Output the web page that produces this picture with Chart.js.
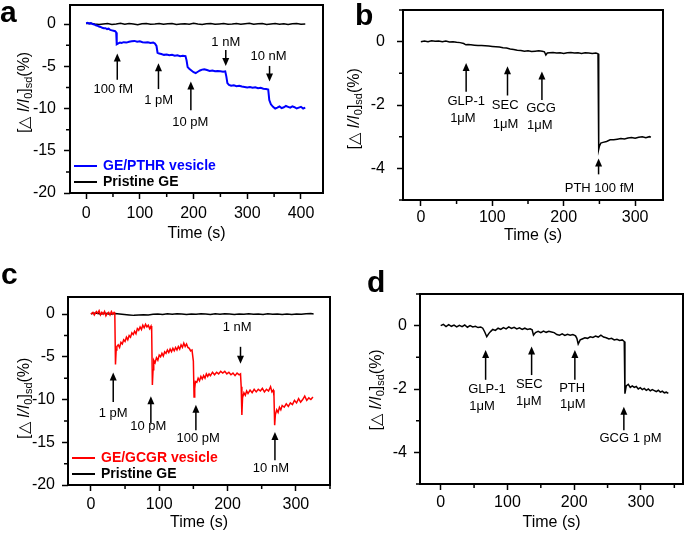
<!DOCTYPE html>
<html>
<head>
<meta charset="utf-8">
<script src="https://cdn.jsdelivr.net/npm/chart.js@4.4.0/dist/chart.umd.min.js"></script>
<style>
  body { margin: 0; background: #fff; }
  #wrap { position: relative; width: 685px; height: 534px; overflow: hidden; }
  canvas { position: absolute; }
  .letter { position: absolute; font: bold 30px "Liberation Sans", Arial, sans-serif; line-height: 30px; color: #000; }
</style>
</head>
<body>
<div id="wrap">
  <canvas id="chartA" width="340" height="262" style="left:0;top:0"></canvas>
  <canvas id="chartB" width="345" height="262" style="left:340px;top:0"></canvas>
  <canvas id="chartC" width="340" height="269" style="left:0;top:265px"></canvas>
  <canvas id="chartD" width="345" height="269" style="left:340px;top:265px"></canvas>
  <div class="letter" style="left:0;top:-3px">a</div>
  <div class="letter" style="left:355px;top:0">b</div>
  <div class="letter" style="left:1px;top:259px">c</div>
  <div class="letter" style="left:367px;top:267px">d</div>
</div>
<script>
// ---- panel a : GE/PTHR vesicle vs pristine GE ----
const xTicksA = [0, 100, 200, 300, 400];
const yTicksA = [0, -5, -10, -15, -20];
const vesicleA = [
  [0, 0.1], [3, 0.15], [6, 0.05], [9, 0.1], [12, 0.0], [15, -0.05], [18, -0.15], [21, -0.2],
  [24, -0.3], [27, -0.35], [30, -0.45], [33, -0.5], [36, -0.5], [39, -0.6], [42, -0.55], [45, -0.7],
  [48, -0.75], [51, -0.8], [54, -0.85], [56, -1.0], [57, -2.4], [60, -2.3], [63, -2.2], [66, -2.25],
  [70, -2.15], [75, -2.2], [80, -2.1], [85, -2.05], [90, -2.0], [95, -2.1], [100, -2.05], [105, -2.15],
  [110, -2.2], [115, -2.15], [120, -2.25], [125, -2.2], [128, -2.3], [131, -2.6], [133, -3.4], [136, -3.5],
  [140, -3.55], [145, -3.65], [150, -3.6], [155, -3.7], [160, -3.65], [165, -3.75], [170, -3.7], [175, -3.8],
  [180, -3.75], [185, -3.8], [187, -4.3], [189, -5.1], [192, -5.3], [196, -5.5], [200, -5.7], [204, -5.8],
  [208, -5.65], [212, -5.5], [216, -5.4], [220, -5.35], [225, -5.45], [230, -5.55], [235, -5.5], [240, -5.6],
  [245, -5.55], [250, -5.6], [255, -5.65], [259, -5.6], [261, -6.2], [263, -7.0], [266, -7.2], [270, -7.3],
  [275, -7.25], [280, -7.35], [285, -7.3], [290, -7.4], [295, -7.45], [300, -7.5], [305, -7.45], [310, -7.55],
  [315, -7.5], [320, -7.6], [325, -7.55], [330, -7.65], [335, -7.7], [339, -7.75], [341, -9.0], [344, -9.5],
  [348, -9.8], [352, -10.0], [356, -9.9], [360, -9.75], [364, -9.95], [368, -9.85], [372, -9.7], [376, -9.8],
  [380, -9.9], [384, -9.75], [388, -9.85], [392, -10.0], [396, -9.9], [400, -9.8], [404, -10.0], [408, -9.9]
];
const pristineA = [
  [0, 0.05], [8, 0.1], [16, 0.0], [24, -0.05], [32, 0.0], [40, 0.05], [48, -0.05], [56, 0.0],
  [64, 0.08], [72, -0.02], [80, 0.05], [88, 0.0], [96, -0.08], [104, 0.02], [112, 0.06], [120, -0.04],
  [128, 0.0], [136, 0.07], [144, -0.03], [152, 0.02], [160, 0.05], [168, -0.06], [176, 0.0], [184, 0.04],
  [192, -0.02], [200, 0.08], [208, 0.0], [216, -0.05], [224, 0.03], [232, 0.06], [240, -0.04], [248, 0.01],
  [256, 0.05], [264, -0.03], [272, 0.0], [280, 0.07], [288, -0.02], [296, 0.04], [304, 0.1], [312, -0.03],
  [320, 0.02], [328, 0.05], [336, -0.05], [344, 0.0], [352, 0.06], [360, -0.02], [368, 0.03], [376, -0.06],
  [384, 0.02], [392, 0.05], [400, -0.03], [408, 0.0]
];
const arrowsA = [[58, -6.6, -3.5], [134.7, -7.7, -4.65], [195, -10.2, -6.8], [260, -3.07, -4.96], [341.5, -4.96, -6.8]];
const labelsA = [[50.6, -7.7, '100 fM'], [135, -9.0, '1 pM'], [194, -11.7, '10 pM'], [260, -2.2, '1 nM'], [339.5, -3.85, '10 nM']];

// ---- panel b : PTHR selectivity ----
const xTicksB = [0, 100, 200, 300];
const yTicksB = [0, -2, -4];
const selectB = [
  [0, 0.0], [5, 0.02], [10, 0.0], [15, 0.03], [20, 0.01], [25, 0.02], [30, 0.0], [35, 0.02],
  [40, -0.01], [45, 0.0], [50, -0.02], [55, -0.03], [60, -0.06], [63, -0.1], [66, -0.09], [70, -0.1],
  [75, -0.11], [80, -0.12], [85, -0.12], [90, -0.13], [95, -0.14], [100, -0.15], [105, -0.16], [110, -0.17],
  [115, -0.19], [120, -0.2], [125, -0.23], [130, -0.25], [135, -0.27], [140, -0.28], [145, -0.3], [150, -0.29],
  [155, -0.31], [160, -0.3], [165, -0.29], [170, -0.3], [173, -0.32], [175, -0.42], [177, -0.36], [180, -0.35],
  [185, -0.34], [190, -0.36], [195, -0.35], [200, -0.37], [205, -0.35], [210, -0.34], [215, -0.36], [220, -0.35],
  [225, -0.37], [230, -0.35], [235, -0.36], [240, -0.37], [245, -0.36], [248, -0.38], [249, -3.4], [250, -3.3],
  [252, -3.2], [255, -3.18], [260, -3.15], [265, -3.1], [270, -3.1], [275, -3.08], [280, -3.06], [285, -3.07],
  [290, -3.04], [295, -3.03], [300, -3.05], [305, -3.02], [310, -3.0], [315, -3.03], [320, -3.0], [322, -3.02]
];
const arrowsB = [[63.4, -1.58, -0.67], [121.3, -1.7, -0.78], [169.5, -1.84, -0.94], [248.8, -4.19, -3.69]];
const labelsB = [
  [37.3, -1.9, 'GLP-1', 'left'], [41, -2.43, '1μM', 'left'],
  [99.4, -2.0, 'SEC', 'left'], [100.8, -2.6, '1μM', 'left'],
  [147.5, -2.1, 'GCG', 'left'], [148.5, -2.64, '1μM', 'left'],
  [250, -4.62, 'PTH 100 fM']
];

// ---- panel c : GE/GCGR vesicle vs pristine GE ----
const xTicksC = [0, 100, 200, 300];
const yTicksC = [0, -5, -10, -15, -20];
const vesicleC = [
  [0, 0.0], [3, 0.2], [5, -0.1], [8, 0.3], [10, 0.1], [12, 0.4], [14, -0.1], [16, 0.2], [18, 0.0],
  [20, 0.3], [22, -0.2], [24, 0.1], [26, 0.2], [28, -0.1], [30, 0.3], [32, 0.0], [34, 0.2], [35, 0.1],
  [36, -5.9], [37, -4.2], [38, -3.8], [40, -3.6], [42, -3.9], [44, -3.3], [46, -3.5], [48, -3.0],
  [50, -3.2], [52, -2.7], [54, -3.0], [56, -2.5], [58, -2.7], [60, -2.2], [62, -2.4], [64, -2.0],
  [66, -2.3], [68, -1.7], [70, -1.9], [72, -1.5], [74, -1.8], [76, -1.3], [78, -1.6], [80, -1.2],
  [82, -1.5], [84, -1.3], [86, -1.7], [88, -1.4], [89, -2.0], [90, -8.3], [91, -6.5], [92, -5.4],
  [94, -5.7], [96, -5.1], [98, -5.4], [100, -4.8], [102, -5.0], [104, -4.6], [106, -4.9], [108, -4.4],
  [110, -4.6], [112, -4.2], [114, -4.5], [116, -4.1], [118, -4.4], [120, -4.0], [122, -4.3], [124, -3.9],
  [126, -4.2], [128, -3.8], [130, -4.1], [132, -3.6], [134, -3.9], [136, -3.4], [138, -3.8], [140, -3.5],
  [142, -3.9], [144, -4.0], [146, -4.3], [148, -4.2], [150, -5.5], [151, -9.7], [152, -8.7], [153, -7.9],
  [155, -8.0], [157, -7.5], [159, -7.8], [161, -7.3], [163, -7.6], [165, -7.2], [167, -7.5], [169, -7.0],
  [171, -7.3], [173, -7.0], [175, -7.2], [178, -6.8], [181, -7.1], [184, -6.8], [187, -7.0], [190, -6.7],
  [193, -6.9], [196, -6.7], [199, -7.0], [202, -6.8], [205, -7.1], [208, -6.9], [211, -7.2], [214, -6.9],
  [217, -7.1], [219, -7.0], [220, -8.5], [221, -11.8], [222, -9.8], [224, -9.2], [226, -9.5], [228, -9.0],
  [230, -9.3], [233, -8.9], [236, -9.2], [239, -8.8], [242, -9.1], [245, -8.8], [248, -9.0], [251, -8.7],
  [254, -9.1], [257, -8.8], [260, -9.0], [263, -8.5], [265, -9.1], [267, -8.9], [268, -9.6], [269, -13.0],
  [270, -11.8], [272, -11.2], [274, -11.5], [276, -10.9], [278, -11.2], [280, -10.7], [283, -10.9], [286, -10.5],
  [289, -10.8], [292, -10.4], [295, -10.6], [298, -10.1], [301, -10.4], [304, -9.9], [307, -10.3], [310, -10.0],
  [313, -9.6], [316, -10.1], [319, -9.8], [322, -10.0], [325, -9.7]
];
const pristineC = [
  [0, 0.05], [7, 0.12], [14, 0.02], [21, 0.1], [28, -0.02], [35, 0.06], [42, 0.0], [49, -0.05],
  [56, -0.1], [63, -0.15], [70, -0.12], [77, -0.08], [84, -0.1], [91, -0.03], [98, 0.02], [105, -0.04],
  [112, 0.03], [119, -0.02], [126, 0.05], [133, 0.0], [140, -0.05], [147, 0.02], [154, -0.03], [161, 0.04],
  [168, 0.0], [175, -0.05], [182, 0.03], [189, -0.02], [196, 0.05], [203, 0.0], [210, -0.06], [217, 0.02],
  [224, -0.03], [231, 0.04], [238, -0.02], [245, 0.0], [252, -0.05], [259, 0.03], [266, -0.02], [273, 0.02],
  [280, -0.04], [287, 0.0], [294, -0.05], [301, 0.01], [308, -0.03], [315, 0.05], [322, 0.08], [326, 0.02]
];
const arrowsC = [[32.7, -10.3, -6.84], [87.8, -12.8, -9.6], [153.7, -13.6, -10.6], [219, -3.83, -5.8], [269.4, -17.1, -13.8]];
const labelsC = [[32.7, -11.65, '1 pM'], [84, -13.2, '10 pM'], [157, -14.5, '100 pM'], [214, -1.56, '1 nM'], [263.5, -18.1, '10 nM']];

// ---- panel d : GCGR selectivity ----
const xTicksD = [0, 100, 200, 300];
const yTicksD = [0, -2, -4];
const selectD = [
  [0, 0.0], [4, 0.04], [8, -0.03], [12, 0.03], [16, -0.02], [20, 0.02], [24, -0.04], [28, 0.01],
  [32, -0.03], [36, 0.02], [40, -0.05], [44, 0.0], [48, -0.04], [52, -0.02], [56, -0.06], [60, -0.04],
  [63, -0.08], [66, -0.2], [69, -0.35], [72, -0.25], [75, -0.18], [78, -0.12], [82, -0.15], [86, -0.08],
  [90, -0.12], [94, -0.06], [98, -0.1], [102, -0.04], [106, -0.09], [110, -0.05], [114, -0.1], [118, -0.07],
  [122, -0.12], [126, -0.08], [130, -0.12], [134, -0.1], [137, -0.13], [139, -0.3], [142, -0.22], [146, -0.18],
  [150, -0.22], [154, -0.17], [158, -0.21], [162, -0.18], [166, -0.2], [170, -0.22], [174, -0.28], [178, -0.3],
  [182, -0.26], [186, -0.31], [190, -0.27], [194, -0.3], [198, -0.28], [202, -0.32], [204, -0.4], [206, -0.58],
  [209, -0.45], [212, -0.42], [216, -0.38], [220, -0.4], [224, -0.35], [228, -0.37], [232, -0.33], [236, -0.36],
  [240, -0.3], [244, -0.36], [248, -0.38], [252, -0.42], [256, -0.4], [260, -0.45], [264, -0.43], [268, -0.47],
  [272, -0.45], [275, -0.5], [276, -2.15], [278, -1.9], [281, -1.85], [284, -1.95], [287, -1.9], [290, -1.95],
  [293, -1.92], [296, -2.0], [299, -1.96], [302, -2.02], [305, -1.98], [308, -2.04], [311, -2.0], [314, -2.06],
  [317, -2.02], [320, -2.05], [323, -2.08], [326, -2.04], [329, -2.1], [332, -2.07], [335, -2.12], [338, -2.1],
  [341, -2.14]
];
const arrowsD = [[67.3, -1.71, -0.77], [136.2, -1.56, -0.66], [201, -1.71, -0.77], [274.4, -3.3, -2.56]];
const labelsD = [
  [41.3, -2.0, 'GLP-1', 'left'], [42.8, -2.56, '1μM', 'left'],
  [112.7, -1.87, 'SEC', 'left'], [112.7, -2.4, '1μM', 'left'],
  [177.5, -1.98, 'PTH', 'left'], [178.6, -2.5, '1μM', 'left'],
  [284.4, -3.56, 'GCG 1 pM']
];

const FONT = '"Liberation Sans", Arial, sans-serif';
Chart.defaults.font.family = FONT;
Chart.defaults.color = '#000';

// midpoints between major ticks -> minor tick marks
function minorsOf(ticks, lo, hi) {
  const out = [];
  const step = Math.abs(ticks[1] - ticks[0]);
  let v = ticks[0] - step / 2;
  while (v - step >= lo) v -= step;
  for (; v <= hi; v += step) {
    if (v >= lo) out.push(v);
  }
  return out;
}

function drawYTitle(ctx, cx, cy) {
  const parts = [
    ['[\u25B3 ', '16px ' + FONT, 0],
    ['I/I', 'italic 16px ' + FONT, 0],
    ['0', '11px ' + FONT, 4],
    [']', '16px ' + FONT, 0],
    ['sd', '11px ' + FONT, 4],
    ['(%)', '16px ' + FONT, 0]
  ];
  let total = 0;
  parts.forEach(p => { ctx.font = p[1]; total += ctx.measureText(p[0]).width; });
  ctx.save();
  ctx.translate(cx, cy);
  ctx.rotate(-Math.PI / 2);
  ctx.textBaseline = 'middle';
  ctx.textAlign = 'left';
  let x = -total / 2;
  parts.forEach(p => {
    ctx.font = p[1];
    ctx.fillText(p[0], x, p[2]);
    x += ctx.measureText(p[0]).width;
  });
  ctx.restore();
}

const panelDecor = {
  id: 'panelDecor',
  afterDraw(chart, args, o) {
    const { ctx, chartArea: a } = chart;
    const xs = chart.scales.x, ys = chart.scales.y;
    ctx.save();
    ctx.strokeStyle = '#000';
    ctx.fillStyle = '#000';
    // frame
    ctx.lineWidth = 2;
    ctx.strokeRect(a.left, a.top, a.right - a.left, a.bottom - a.top);
    // minor ticks
    ctx.lineWidth = 1.5;
    ctx.beginPath();
    minorsOf(o.xTicks, xs.min, xs.max).forEach(v => {
      const px = xs.getPixelForValue(v);
      ctx.moveTo(px, a.bottom); ctx.lineTo(px, a.bottom + 4);
    });
    minorsOf(o.yTicks, ys.min, ys.max).forEach(v => {
      const py = ys.getPixelForValue(v);
      ctx.moveTo(a.left, py); ctx.lineTo(a.left - 4, py);
    });
    ctx.stroke();
    // arrows
    o.arrows.forEach(([t, from, to]) => {
      const px = xs.getPixelForValue(t);
      const p1 = ys.getPixelForValue(from), p2 = ys.getPixelForValue(to);
      const dir = p2 > p1 ? 1 : -1;
      ctx.lineWidth = 1.5;
      ctx.beginPath();
      ctx.moveTo(px, p1); ctx.lineTo(px, p2 - dir * 5);
      ctx.stroke();
      ctx.beginPath();
      ctx.moveTo(px, p2);
      ctx.lineTo(px - 3.5, p2 - dir * 8);
      ctx.lineTo(px + 3.5, p2 - dir * 8);
      ctx.closePath();
      ctx.fill();
    });
    // labels
    ctx.font = '13px ' + FONT;
    ctx.textBaseline = 'middle';
    o.labels.forEach(([t, v, text, align]) => {
      ctx.textAlign = align || 'center';
      ctx.fillText(text, xs.getPixelForValue(t), ys.getPixelForValue(v));
    });
    // legend inside the frame
    if (o.legend) {
      chart.data.datasets.forEach((ds, i) => {
        const y = a.bottom - 27 + i * 16;
        ctx.strokeStyle = ds.borderColor;
        ctx.lineWidth = 2;
        ctx.beginPath();
        ctx.moveTo(a.left + 4, y); ctx.lineTo(a.left + 27, y);
        ctx.stroke();
        ctx.fillStyle = ds.borderColor;
        ctx.font = 'bold 14px ' + FONT;
        ctx.textAlign = 'left';
        ctx.fillText(ds.label, a.left + 33, y);
      });
    }
    ctx.fillStyle = '#000';
    drawYTitle(ctx, a.left - o.yTitleGap, ys.getPixelForValue(o.yTitleAt));
    ctx.restore();
  }
};

function makePanel(id, p) {
  return new Chart(document.getElementById(id), {
    type: 'line',
    data: {
      datasets: p.series.map(s => ({
        label: s.label,
        data: s.data.map(d => ({ x: d[0], y: d[1] })),
        borderColor: s.color,
        borderWidth: s.width,
        pointRadius: 0,
        tension: 0,
        fill: false
      }))
    },
    options: {
      responsive: false,
      animation: false,
      events: [],
      layout: { padding: p.pad },
      plugins: {
        legend: { display: false },
        tooltip: { enabled: false },
        panelDecor: {
          xTicks: p.xTicks, yTicks: p.yTicks, arrows: p.arrows, labels: p.labels,
          legend: p.legend, yTitleGap: p.yTitleGap, yTitleAt: p.yTitleAt
        }
      },
      scales: {
        x: {
          type: 'linear', min: p.xMin, max: p.xMax,
          afterBuildTicks: s => { s.ticks = p.xTicks.map(v => ({ value: v })); },
          afterFit: s => { s.height = p.xH; s.paddingLeft = 0; s.paddingRight = 0; },
          ticks: { font: { size: 16 }, color: '#000', padding: p.xTickPad, maxRotation: 0, autoSkip: false, callback: v => String(v) },
          grid: { drawOnChartArea: false, drawTicks: true, tickLength: 6, tickWidth: 1.5, tickColor: '#000' },
          border: { display: false },
          title: { display: true, text: 'Time (s)', font: { size: 16 }, color: '#000', padding: { top: 0, bottom: p.xTitlePad } }
        },
        y: {
          type: 'linear', min: p.yMin, max: p.yMax,
          afterBuildTicks: s => { s.ticks = p.yTicks.map(v => ({ value: v })); },
          afterFit: s => { s.width = p.yW; s.paddingTop = 0; s.paddingBottom = 0; },
          ticks: { font: { size: 16 }, color: '#000', padding: p.yTickPad, autoSkip: false, callback: v => String(v) },
          grid: { drawOnChartArea: false, drawTicks: true, tickLength: 6, tickWidth: 1.5, tickColor: '#000' },
          border: { display: false }
        }
      }
    },
    plugins: [panelDecor]
  });
}

makePanel('chartA', {
  series: [
    { label: 'GE/PTHR vesicle', data: vesicleA, color: '#0000ff', width: 2 },
    { label: 'Pristine GE', data: pristineA, color: '#000000', width: 1.5 }
  ],
  xTicks: xTicksA, yTicks: yTicksA, arrows: arrowsA, labels: labelsA, legend: true,
  xMin: -30, xMax: 441, yMin: -20, yMax: 2.25,
  pad: { left: 0, top: 5, right: 17, bottom: 0 }, yW: 70, xH: 69,
  xTickPad: 5, xTitlePad: 19, yTickPad: 8, yTitleGap: 45, yTitleAt: -8.1
});

makePanel('chartB', {
  series: [{ label: 'GE/PTHR vesicle', data: selectB, color: '#000000', width: 1.5 }],
  xTicks: xTicksB, yTicks: yTicksB, arrows: arrowsB, labels: labelsB, legend: false,
  xMin: -25, xMax: 339, yMin: -5, yMax: 1,
  pad: { left: 0, top: 10, right: 22, bottom: 0 }, yW: 63, xH: 62,
  xTickPad: 2, xTitlePad: 17, yTickPad: 12, yTitleGap: 48, yTitleAt: -2.12
});

makePanel('chartC', {
  series: [
    { label: 'GE/GCGR vesicle', data: vesicleC, color: '#ff0000', width: 1.5 },
    { label: 'Pristine GE', data: pristineC, color: '#000000', width: 1.5 }
  ],
  xTicks: xTicksC, yTicks: yTicksC, arrows: arrowsC, labels: labelsC, legend: true,
  xMin: -33.5, xMax: 350, yMin: -20, yMax: 2,
  pad: { left: 0, top: 32, right: 10, bottom: 0 }, yW: 68, xH: 49,
  xTickPad: 4, xTitlePad: 2, yTickPad: 7, yTitleGap: 43, yTitleAt: -9.85
});

makePanel('chartD', {
  series: [{ label: 'GE/GCGR vesicle', data: selectD, color: '#000000', width: 1.5 }],
  xTicks: xTicksD, yTicks: yTicksD, arrows: arrowsD, labels: labelsD, legend: false,
  xMin: -31, xMax: 363, yMin: -5, yMax: 1,
  pad: { left: 0, top: 29, right: 2, bottom: 0 }, yW: 80, xH: 50,
  xTickPad: 3, xTitlePad: 2, yTickPad: 7, yTitleGap: 43, yTitleAt: -2.03
});
</script>
</body>
</html>
